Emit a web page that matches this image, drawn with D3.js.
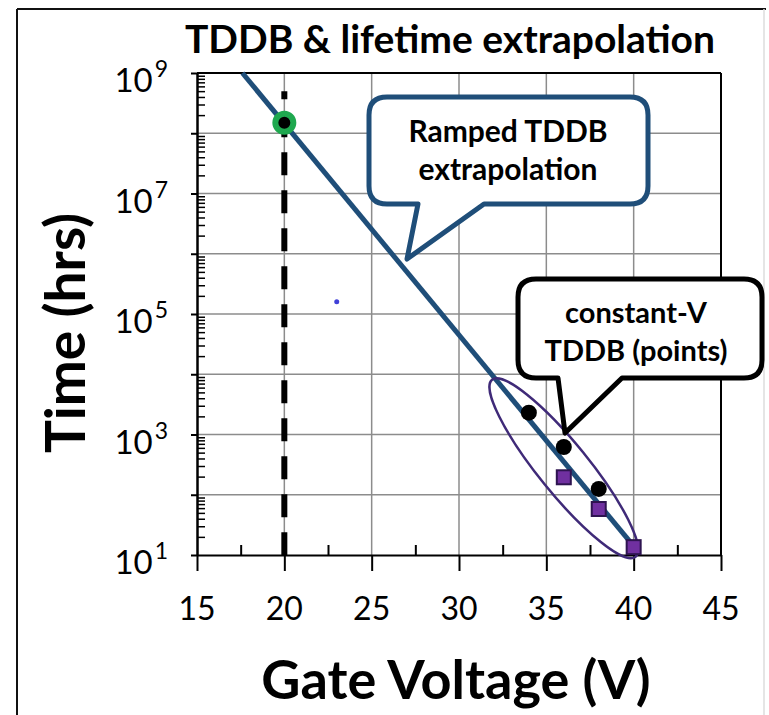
<!DOCTYPE html>
<html>
<head>
<meta charset="utf-8">
<script src="https://cdn.jsdelivr.net/npm/d3@7"></script>
<style>
  body { margin: 0; background: #fff; }
  svg { display: block; font-family: Lato, "Open Sans", sans-serif; }
</style>
</head>
<body>
<div id="chart"></div>
<script>
// ---- data ----
var voltTicks = [15, 20, 25, 30, 35, 40, 45];
var voltMinor = [17.5, 22.5, 27.5, 32.5, 37.5, 42.5];
var timeDecades = [1, 2, 3, 4, 5, 6, 7, 8, 9];      // exponents of 10
var timeLabelExp = [1, 3, 5, 7, 9];

// ramped TDDB extrapolation line
var rampVolt = [17.6, 40];
var rampTime = [1e9, 14];

// constant-V TDDB points (circles)
var cvVolt = [34, 36, 38];
var cvTime = [2300, 620, 125];

// constant-V TDDB points (squares)
var sqVolt = [36, 38, 40];
var sqTime = [195, 58, 13.5];

// use condition marker + dashed line at 20 V
var useVolt = 20, useTime = 1.5e8;
var dashTime = [5e8, 10];

// stray dot
var strayVolt = 23, strayTime = 1.6e5;

// ellipse around the constant-V points
var ringVolt = 36, ringTime = 275;

var width = 769, height = 715;
var pLeft = 197, pRight = 721, pTop = 73, pBottom = 555;

var svg = d3.select("#chart").append("svg")
  .attr("width", width)
  .attr("height", height);

var x = d3.scaleLinear().domain([15, 45]).range([pLeft, pRight]);
var y = d3.scaleLog().domain([10, 1e9]).range([pBottom, pTop]);

// outer frame
svg.append("line").attr("x1", 17).attr("y1", 9).attr("x2", 17).attr("y2", height)
  .attr("stroke", "#111").attr("stroke-width", 2);
svg.append("line").attr("x1", 17).attr("y1", 9).attr("x2", 766).attr("y2", 9)
  .attr("stroke", "#111").attr("stroke-width", 2);
svg.append("line").attr("x1", 764).attr("y1", 9).attr("x2", 764).attr("y2", height)
  .attr("stroke", "#ddd").attr("stroke-width", 1.5);

// title
svg.append("text")
  .attr("x", 450).attr("y", 53)
  .attr("text-anchor", "middle")
  .style("font-weight", "bold").style("font-size", "39px")
  .text("TDDB & lifetime extrapolation");

// grid
var g = svg.append("g");
g.selectAll(".hgrid").data(timeDecades.slice(1, -1)).enter().append("line")
  .attr("x1", pLeft).attr("x2", pRight)
  .attr("y1", function(d) { return y(Math.pow(10, d)); })
  .attr("y2", function(d) { return y(Math.pow(10, d)); })
  .attr("stroke", "#8c8c8c").attr("stroke-width", 1.5);
g.selectAll(".vgrid").data(voltTicks.slice(1, -1)).enter().append("line")
  .attr("x1", function(d) { return x(d); }).attr("x2", function(d) { return x(d); })
  .attr("y1", pTop).attr("y2", pBottom)
  .attr("stroke", "#8c8c8c").attr("stroke-width", 1.5);

// plot frame top/right
g.append("line").attr("x1", pLeft).attr("x2", pRight).attr("y1", pTop).attr("y2", pTop)
  .attr("stroke", "#000").attr("stroke-width", 2);
g.append("line").attr("x1", pRight).attr("x2", pRight).attr("y1", pTop).attr("y2", pBottom)
  .attr("stroke", "#000").attr("stroke-width", 2);

// x axis: major ticks down, minor ticks up
var xAxis = svg.append("g").attr("transform", "translate(0," + pBottom + ")")
  .call(d3.axisBottom(x).tickValues(voltTicks).tickSize(16).tickSizeOuter(0).tickFormat(""));
xAxis.select(".domain").attr("stroke-width", 2);
xAxis.selectAll(".tick line").attr("stroke-width", 2);
svg.append("g").attr("transform", "translate(0," + pBottom + ")")
  .call(d3.axisTop(x).tickValues(voltMinor).tickSize(10).tickFormat(""))
  .call(function(s) { s.select(".domain").remove(); s.selectAll(".tick line").attr("stroke-width", 2); });

svg.selectAll(".xlab").data(voltTicks).enter().append("text")
  .attr("x", function(d) { return x(d); })
  .attr("y", pBottom + 65)
  .attr("text-anchor", "middle")
  .style("font-size", "32px")
  .text(function(d) { return d; });

// y axis: major ticks left, minor ticks right
var minorTimes = [];
timeDecades.slice(0, -1).forEach(function(e) {
  for (var k = 2; k <= 9; k++) minorTimes.push(k * Math.pow(10, e));
});
var yAxis = svg.append("g").attr("transform", "translate(" + pLeft + ",0)")
  .call(d3.axisLeft(y).tickValues(timeDecades.map(function(e) { return Math.pow(10, e); }))
    .tickSize(6).tickSizeOuter(0).tickFormat(""));
yAxis.select(".domain").attr("stroke-width", 2.5);
yAxis.selectAll(".tick line").attr("stroke-width", 2);
svg.append("g").attr("transform", "translate(" + pLeft + ",0)")
  .call(d3.axisRight(y).tickValues(minorTimes).tickSize(8).tickFormat(""))
  .call(function(s) { s.select(".domain").remove(); s.selectAll(".tick line").attr("stroke-width", 1.5); });

var ylab = svg.selectAll(".ylab").data(timeLabelExp).enter().append("text")
  .attr("x", pLeft - 29)
  .attr("y", function(d) { return y(Math.pow(10, d)) + 19; })
  .attr("text-anchor", "end")
  .style("font-size", "33px");
ylab.append("tspan").text("10");
ylab.append("tspan").attr("dx", 2).attr("dy", -15).style("font-size", "23px").text(function(d) { return d; });

// axis titles
svg.append("text")
  .attr("transform", "translate(85,333) rotate(-90)")
  .attr("text-anchor", "middle")
  .style("font-weight", "bold").style("font-size", "55px")
  .text("Time (hrs)");
svg.append("text")
  .attr("x", 456).attr("y", 699)
  .attr("text-anchor", "middle")
  .style("font-weight", "bold").style("font-size", "54px")
  .text("Gate Voltage (V)");

// dashed line at use voltage
svg.append("path")
  .attr("d", d3.line()([[x(useVolt), y(dashTime[0])], [x(useVolt), y(dashTime[1])]]))
  .attr("stroke", "#000").attr("stroke-width", 6)
  .attr("stroke-dasharray", "23,15").attr("stroke-dashoffset", 15);

// ramped extrapolation line
var line = d3.line()
  .x(function(d) { return x(d[0]); })
  .y(function(d) { return y(d[1]); });
svg.append("path")
  .datum(d3.zip(rampVolt, rampTime))
  .attr("d", line)
  .attr("fill", "none").attr("stroke", "#1f4e79").attr("stroke-width", 5);

// ellipse around constant-V points
svg.append("ellipse")
  .attr("cx", 0).attr("cy", 0).attr("rx", 114).attr("ry", 25)
  .attr("transform", "translate(" + x(ringVolt) + "," + y(ringTime) + ") rotate(51)")
  .attr("fill", "none").attr("stroke", "#3f2a78").attr("stroke-width", 2.5);

// circles
svg.selectAll(".cv").data(d3.zip(cvVolt, cvTime)).enter().append("circle")
  .attr("cx", function(d) { return x(d[0]); })
  .attr("cy", function(d) { return y(d[1]); })
  .attr("r", 8).attr("fill", "#000");

// squares
svg.selectAll(".sq").data(d3.zip(sqVolt, sqTime)).enter().append("rect")
  .attr("x", function(d) { return x(d[0]) - 7; })
  .attr("y", function(d) { return y(d[1]) - 7; })
  .attr("width", 14).attr("height", 14)
  .attr("fill", "#7030a0").attr("stroke", "#2e1450").attr("stroke-width", 2);

// use-condition marker
svg.append("circle")
  .attr("cx", x(useVolt)).attr("cy", y(useTime)).attr("r", 9)
  .attr("fill", "#000").attr("stroke", "#1fa84f").attr("stroke-width", 6);

// stray dot
svg.append("circle")
  .attr("cx", x(strayVolt)).attr("cy", y(strayTime)).attr("r", 2.5)
  .attr("fill", "#4040d8");

// callouts
function callout(l, t, r, b, rad, b1, b2, tip) {
  return "M" + (l + rad) + "," + t +
    "H" + (r - rad) + "Q" + r + "," + t + " " + r + "," + (t + rad) +
    "V" + (b - rad) + "Q" + r + "," + b + " " + (r - rad) + "," + b +
    "H" + b2 + "L" + tip[0] + "," + tip[1] + "L" + b1 + "," + b +
    "H" + (l + rad) + "Q" + l + "," + b + " " + l + "," + (b - rad) +
    "V" + (t + rad) + "Q" + l + "," + t + " " + (l + rad) + "," + t + "Z";
}
svg.append("path")
  .attr("d", callout(369, 97, 648, 204, 18, 418, 484, [407, 259]))
  .attr("fill", "#fff").attr("stroke", "#1f4e79").attr("stroke-width", 5)
  .attr("stroke-linejoin", "round");
svg.append("text").attr("x", 508).attr("y", 142).attr("text-anchor", "middle")
  .style("font-weight", "bold").style("font-size", "30px").text("Ramped TDDB");
svg.append("text").attr("x", 508).attr("y", 180).attr("text-anchor", "middle")
  .style("font-weight", "bold").style("font-size", "30px").text("extrapolation");

svg.append("path")
  .attr("d", callout(518, 279, 762, 378, 18, 558, 622, [565, 433]))
  .attr("fill", "#fff").attr("stroke", "#000").attr("stroke-width", 5)
  .attr("stroke-linejoin", "round");
svg.append("text").attr("x", 636).attr("y", 323).attr("text-anchor", "middle")
  .style("font-weight", "bold").style("font-size", "29px").text("constant-V");
svg.append("text").attr("x", 636).attr("y", 361).attr("text-anchor", "middle")
  .style("font-weight", "bold").style("font-size", "29px").text("TDDB (points)");
</script>
</body>
</html>
